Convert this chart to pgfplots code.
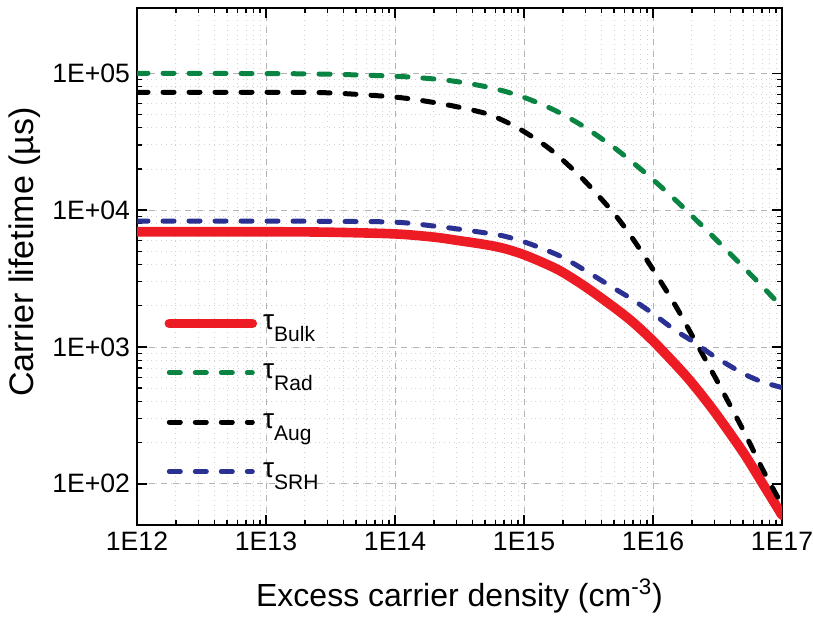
\documentclass[border=0pt]{standalone}
\usepackage{fontspec}
\setmainfont{Liberation Sans}
\usepackage{pgfplots}
\usepackage{pgfplotstable}
\pgfplotsset{compat=1.18}

\definecolor{bulkred}{RGB}{237,28,36}
\definecolor{radgreen}{RGB}{10,132,66}
\definecolor{srhblue}{RGB}{43,49,146}

% tau with a lowered subscript word, as in the legend
\newcommand{\tauleg}[1]{\hspace{2.5pt}\fontsize{14}{16}\selectfont τ\raisebox{-6pt}{\fontsize{10.5}{12}\selectfont #1}}

\pgfplotstableread{
x       bulk   rad     aug     srh
1e12    6950   100000  72600   8320
1e13    6950   99500   72600   8320
3e13    6900   98500   72000   8280
1e14    6700   95200   67000   8170
2e14    6350   90900   61200   7650
3e14    6020   87000   57000   7300
5e14    5600   80000   51000   6820
7e14    5250   74100   44900   6460
1e15    4720   66700   37500   5870
1.5e15  4020   57100   29100   5080
2e15    3510   50000   23200   4510
3e15    2750   40000   16100   3610
5e15    1945   28600   9420    2680
7e15    1514   22200   6140    2210
1e16    1107   16700   3680    1750
1.5e16  742    11800   1990    1315
2e16    547    9090    1222    1110
3e16    336    6250    611     851
5e16    170    3850    247     640
7e16    102    2780    130     557
1e17    59     1960    70      505
}\lifetimes

\begin{document}
\begin{tikzpicture}
\begin{loglogaxis}[
  scale only axis,
  width=322.5pt, height=258.5pt,
  xmin=1e12, xmax=1e17,
  ymin=50, ymax=3e5,
  xtick={1e12,1e13,1e14,1e15,1e16,1e17},
  xticklabels={1E12,1E13,1E14,1E15,1E16,1E17},
  ytick={1e2,1e3,1e4,1e5},
  yticklabels={1E+02,1E+03,1E+04,1E+05},
  tick label style={font=\fontsize{13.3}{15}\selectfont},
  xlabel={Excess carrier density (cm\textsuperscript{-3})},
  ylabel={Carrier lifetime (µs)},
  xlabel style={font=\fontsize{16}{19}\selectfont, yshift=-7pt},
  ylabel style={font=\fontsize{17}{20}\selectfont, at={(ticklabel cs:0.528)}, yshift=-1pt},
  axis line style={line width=1pt},
  tick style={black, line width=0.7pt},
  major tick length=5pt, minor tick length=2.5pt,
  grid=both,
  major grid style={dashed, gray!60, line width=0.4pt},
  minor grid style={dotted, gray!35, line width=0.4pt},
  legend style={draw=none, fill=none, inner sep=0pt,
    at={(0.042,0.41)}, anchor=north west,
    nodes={inner sep=0.5pt},
    row sep=14.8pt, cells={anchor=west}},
  legend image code/.code={\draw[#1] (0pt,0pt) -- (41.5pt,0pt);},
  every axis plot/.append style={smooth, line cap=round},
]
\addplot[bulkred, line width=4.8pt] table[x=x, y=bulk] {\lifetimes};
\addlegendentry{\tauleg{Bulk}}
\addplot[radgreen, line width=2.5pt, dash pattern=on 5.5pt off 7.5pt] table[x=x, y=rad] {\lifetimes};
\addlegendentry{\tauleg{Rad}}
\addplot[black, line width=2.5pt, dash pattern=on 5.5pt off 7.5pt] table[x=x, y=aug] {\lifetimes};
\addlegendentry{\tauleg{Aug}}
\addplot[srhblue, line width=2.5pt, dash pattern=on 5.5pt off 7.5pt] table[x=x, y=srh] {\lifetimes};
\addlegendentry{\tauleg{SRH}}
\end{loglogaxis}
\pgfresetboundingbox
\path ([shift={(-68.5pt,-46.5pt)}]current axis.south west) rectangle ([shift={(15.5pt,4pt)}]current axis.north east);
\end{tikzpicture}
\end{document}
